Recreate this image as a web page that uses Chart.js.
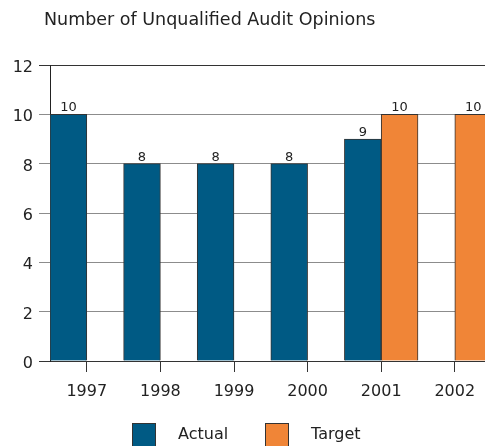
<!DOCTYPE html>
<html lang="en">
<head>
  <meta charset="UTF-8">
  <title>Number of Unqualified Audit Opinions</title>
  <script src="https://cdn.jsdelivr.net/npm/chart.js"></script>
  <style>
    html, body { margin: 0; padding: 0; overflow: hidden; background: #fff; }
    canvas { display: block; }
  </style>
</head>
<body>
  <canvas id="opinions" width="500" height="446"></canvas>

  <script>
    // Audit opinions per fiscal year: actual results and targets
    const years = ['1997', '1998', '1999', '2000', '2001', '2002'];
    const actual = [10, 8, 8, 8, 9, null];
    const target = [null, null, null, null, 10, 10];
    const yMin = 0, yMax = 12, yStep = 2;

    const titleText = 'Number of Unqualified Audit Opinions';
    const FONT = 'DejaVu Sans';
    const INK = '#222';

    // Title, value labels above bars and the legend under the axis
    const decorations = {
      id: 'decorations',
      afterDatasetsDraw(chart) {
        const ctx = chart.ctx;
        ctx.save();
        ctx.fillStyle = INK;
        ctx.font = '13px "' + FONT + '"';
        ctx.textAlign = 'center';
        ctx.textBaseline = 'alphabetic';
        chart.data.datasets.forEach((ds, i) => {
          chart.getDatasetMeta(i).data.forEach((bar, j) => {
            const v = ds.data[j];
            if (v === null || v === undefined) return;
            ctx.fillText(String(v), bar.x, bar.y - 3);
          });
        });
        ctx.restore();
      },
      afterDraw(chart) {
        const ctx = chart.ctx;
        ctx.save();
        ctx.fillStyle = INK;
        ctx.textBaseline = 'alphabetic';
        ctx.textAlign = 'left';
        ctx.font = '17.5px "' + FONT + '"';
        ctx.fillText(titleText, 44, 25);

        // legend row, roughly centred under the plot
        ctx.font = '16px "' + FONT + '"';
        const box = 23, gap = 23, between = 37;
        const items = chart.data.datasets.map(ds => ({
          label: ds.label, color: ds.backgroundColor, w: ctx.measureText(ds.label).width
        }));
        const total = items.reduce((s, it) => s + box + gap + it.w, 0) + between * (items.length - 1);
        let x = Math.round(246 - total / 2);
        const top = 423;
        items.forEach(it => {
          ctx.fillStyle = it.color;
          ctx.fillRect(x, top, box, box + 2);
          ctx.strokeStyle = '#333';
          ctx.lineWidth = 1;
          ctx.strokeRect(x + 0.5, top + 0.5, box, box + 2);
          ctx.fillStyle = INK;
          ctx.textBaseline = 'middle';
          ctx.fillText(it.label, x + box + gap, top + 12);
          x += Math.round(box + gap + it.w + between);
        });
        ctx.restore();
      }
    };

    new Chart(document.getElementById('opinions'), {
      type: 'bar',
      data: {
        labels: years,
        datasets: [
          {
            label: 'Actual',
            data: actual,
            backgroundColor: '#005a84',
            borderColor: '#333',
            borderWidth: 1,
            barPercentage: 1,
            categoryPercentage: 1
          },
          {
            label: 'Target',
            data: target,
            backgroundColor: '#f08537',
            borderColor: '#333',
            borderWidth: 1,
            barPercentage: 1,
            categoryPercentage: 1
          }
        ]
      },
      options: {
        responsive: false,
        animation: false,
        devicePixelRatio: 1,
        layout: { padding: { top: 65, right: 8.4, bottom: 45, left: 0 } },
        plugins: {
          legend: { display: false },
          title: { display: false },
          tooltip: { enabled: false }
        },
        scales: {
          x: {
            offset: true,
            grid: { offset: false, drawOnChartArea: false, tickLength: 11, color: '#333' },
            border: { color: '#333' },
            ticks: { color: INK, font: { family: FONT, size: 16 }, padding: 10, maxRotation: 0 },
            afterFit(scale) { scale.height = 40; }
          },
          y: {
            min: yMin,
            max: yMax,
            ticks: { stepSize: yStep, color: INK, font: { family: FONT, size: 16 }, padding: 6, labelOffset: 3 },
            grid: {
              tickLength: 11,
              color: c => (c.tick && (c.tick.value === yMax || c.tick.value === yMin)) ? '#333' : '#8c8c8c'
            },
            border: { color: '#222' },
            afterFit(scale) { scale.width = 50; }
          }
        }
      },
      plugins: [decorations]
    });
  </script>
</body>
</html>
